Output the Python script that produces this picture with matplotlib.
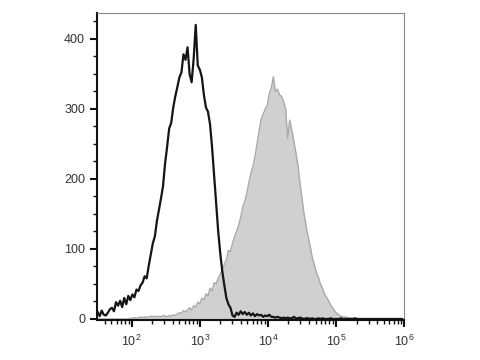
import numpy as np
import matplotlib.pyplot as plt
from matplotlib.ticker import LogLocator, MultipleLocator, FixedLocator

plt.rcParams['font.family'] = ['Liberation Sans', 'DejaVu Sans']
plt.rcParams['mathtext.fontset'] = 'custom'
plt.rcParams['mathtext.rm'] = 'Liberation Sans'
plt.rcParams['mathtext.it'] = 'Liberation Sans:italic'

# log10 of fluorescence, bins start at 1.50 with step 0.03
log_start = 1.50
log_step = 0.03

# unstained / isotype control (black line)
control = [10, 4, 12, 6, 5, 9, 14, 16, 11, 24,
           19, 26, 17, 30, 21, 33, 27, 35, 31, 42,
           40, 48, 52, 61, 58, 76, 92, 108, 118, 140,
           156, 172, 190, 222, 246, 272, 280, 302, 318, 331,
           345, 352, 378, 370, 388, 350, 338, 372, 420, 362,
           356, 345, 320, 302, 296, 278, 245, 205, 165, 125,
           94, 68, 48, 30, 21, 16, 5, 3, 9, 6,
           11, 7, 10, 6, 9, 5, 8, 4, 7, 5,
           6, 3, 5, 4, 6, 3, 3, 2, 3, 2,
           1, 2, 1, 2, 1, 1, 3, 1, 1, 2,
           1, 0, 1, 1, 0, 1, 0, 0, 1, 0,
           1, 0, 0, 0, 1, 0, 0, 0, 0, 1,
           0, 0, 0, 0, 0, 0, 1, 0, 0, 0,
           0, 0, 0, 0, 0, 0, 0, 0, 0, 0,
           0, 0, 0, 0, 0, 0, 0, 0, 0, 0]

# stained sample (grey filled)
stained = [0, 0, 0, 0, 0, 0, 0, 0, 0, 0,
           0, 0, 0, 0, 0, 0, 1, 1, 2, 1,
           2, 3, 2, 3, 2, 3, 4, 3, 4, 3,
           4, 3, 5, 4, 3, 5, 4, 6, 5, 7,
           9, 8, 12, 10, 13, 16, 13, 19, 17, 24,
           22, 30, 27, 36, 33, 44, 40, 52, 50, 58,
           64, 70, 78, 85, 98, 96, 108, 118, 125, 134,
           145, 160, 168, 180, 195, 208, 218, 232, 250, 268,
           286, 292, 300, 305, 322, 330, 346, 325, 328, 320,
           318, 310, 300, 258, 284, 270, 254, 238, 220, 195,
           172, 150, 133, 118, 104, 88, 78, 67, 60, 50,
           44, 36, 31, 26, 20, 16, 11, 8, 6, 4,
           3, 3, 2, 2, 1, 1, 1, 0, 0, 0,
           0, 0, 0, 0, 0, 0, 0, 0, 0, 0,
           0, 0, 0, 0, 0, 0, 0, 0, 0, 0]

x_control = 10 ** (log_start + log_step * np.arange(len(control)))
x_stained = 10 ** (log_start + log_step * np.arange(len(stained)))

fig = plt.figure(figsize=(4.8, 3.6), dpi=100)
ax = fig.add_axes([0.202, 0.111, 0.640, 0.853])

ax.fill_between(x_stained, stained, 0, color='#d0d0d0', lw=0)
ax.plot(x_stained, stained, color='#a9a9a9', lw=1.0)
ax.plot(x_control, control, color='#151515', lw=1.6)

ax.set_xscale('log')
ax.set_xlim(10 ** 1.49, 10 ** 6.0)
ax.set_ylim(-1.5, 437)

ax.xaxis.set_major_locator(FixedLocator([1e2, 1e3, 1e4, 1e5, 1e6]))
ax.xaxis.set_minor_locator(LogLocator(base=10, subs=np.arange(2, 10), numticks=20))
ax.set_xticklabels(['$10^2$', '$10^3$', '$10^4$', '$10^5$', '$10^6$'])
ax.yaxis.set_major_locator(MultipleLocator(100))
ax.yaxis.set_minor_locator(MultipleLocator(25))

ax.tick_params(which='major', length=5, width=1.5, labelsize=9, colors='#111111',
               labelcolor='#333333')
ax.tick_params(which='minor', length=3, width=1.0, colors='#111111')
ax.tick_params(axis='x', which='major', pad=5)

for side in ['left', 'bottom']:
    ax.spines[side].set_linewidth(1.5)
    ax.spines[side].set_color('#111111')
for side in ['top', 'right']:
    ax.spines[side].set_linewidth(0.8)
    ax.spines[side].set_color('#888888')

plt.savefig('out.png', dpi=100)
